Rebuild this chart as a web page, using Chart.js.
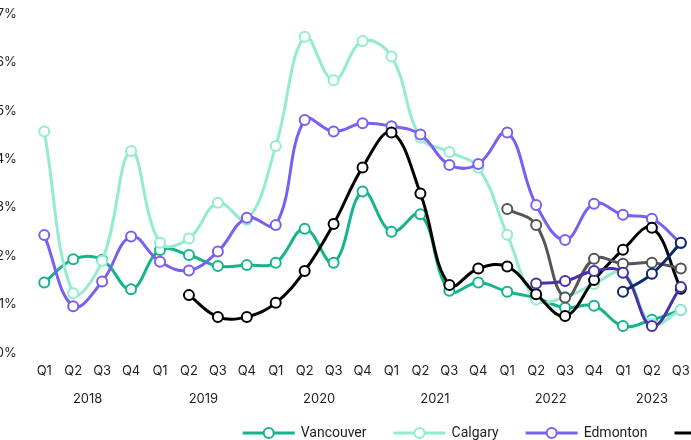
<!DOCTYPE html>
<html>
<head>
<meta charset="utf-8">
<script src="https://cdn.jsdelivr.net/npm/chart.js@4.4.1/dist/chart.umd.min.js"></script>
<style>
html,body{margin:0;padding:0;background:#fff;overflow:hidden;width:691px;height:440px;}
#wrap{position:absolute;left:-6px;top:0;width:712px;height:440px;}
canvas{display:block;}
</style>
</head>
<body>
<div id="wrap"><canvas id="c" width="712" height="440"></canvas></div>
<script>
// ---- data ----
const quarters = ['Q1','Q2','Q3','Q4','Q1','Q2','Q3','Q4','Q1','Q2','Q3','Q4','Q1','Q2','Q3','Q4','Q1','Q2','Q3','Q4','Q1','Q2','Q3'];
const quarterYears = ['2018','2018','2018','2018','2019','2019','2019','2019','2020','2020','2020','2020','2021','2021','2021','2021','2022','2022','2022','2022','2023','2023','2023'];
const yTicks = [0,1,2,3,4,5,6,7];

const seriesNames = ['Vancouver','Calgary','Edmonton','Toronto','Ottawa','Montréal','Halifax'];
const vancouver = [1.45,1.93,1.92,1.31,2.12,2.02,1.79,1.81,1.86,2.56,1.86,3.33,2.50,2.86,1.28,1.45,1.26,1.13,0.93,0.97,0.55,0.68,0.88];
const calgary   = [4.57,1.23,1.90,4.17,2.27,2.36,3.10,2.75,4.27,6.53,5.63,6.44,6.12,4.45,4.15,3.82,2.44,1.10,1.15,1.42,1.65,0.60,0.88];
const edmonton  = [2.43,0.96,1.47,2.40,1.88,1.70,2.09,2.79,2.64,4.81,4.57,4.74,4.68,4.51,3.88,3.90,4.55,3.05,2.33,3.08,2.85,2.77,2.26];
const toronto   = [null,null,null,null,null,1.19,0.74,0.74,1.03,1.69,2.66,3.83,4.55,3.29,1.40,1.74,1.78,1.21,0.76,1.50,2.13,2.58,1.32];
const ottawa    = [null,null,null,null,null,null,null,null,null,null,null,null,null,null,null,null,2.97,2.64,1.14,1.94,1.84,1.86,1.74];
const montreal  = [null,null,null,null,null,null,null,null,null,null,null,null,null,null,null,null,null,1.43,1.48,1.69,1.65,0.55,1.36];
const halifax   = [null,null,null,null,null,null,null,null,null,null,null,null,null,null,null,null,null,null,null,null,1.26,1.63,2.27];

const seriesValues = [vancouver, calgary, edmonton, toronto, ottawa, montreal, halifax];
const seriesColors = ['#14b48e','#93eccf','#7b5ff0','#000000','#555555','#4b31a6','#0c2a6a'];

const tickFont = {family:'Inter', size:13};
const tickColor = '#1e1e1e';

// ---- plugins ----
const yearPlugin = {
  id:'yearLabels',
  afterDraw(chart){
    const xs = chart.scales.x, ctx = chart.ctx;
    const groups = {};
    quarterYears.forEach((y,i)=>{ (groups[y] = groups[y] || []).push(i); });
    ctx.save();
    ctx.font = tickFont.size + 'px ' + tickFont.family;
    ctx.fillStyle = tickColor;
    ctx.textAlign = 'center';
    ctx.textBaseline = 'middle';
    Object.keys(groups).forEach(y=>{
      const idx = groups[y];
      const x = (xs.getPixelForValue(idx[0]) + xs.getPixelForValue(idx[idx.length-1]))/2;
      ctx.fillText(y, x, xs.bottom - 41);
    });
    ctx.restore();
  }
};

const legendPlugin = {
  id:'lineLegend',
  afterDraw(chart){
    const ctx = chart.ctx;
    let x = 248.7;
    const y = 433;
    ctx.save();
    ctx.font = '14px Roboto';
    ctx.textBaseline = 'middle';
    ctx.textAlign = 'left';
    chart.data.datasets.forEach(ds=>{
      ctx.strokeStyle = ds.borderColor;
      ctx.lineWidth = 3;
      ctx.beginPath(); ctx.moveTo(x, y); ctx.lineTo(x+52, y); ctx.stroke();
      ctx.beginPath(); ctx.arc(x+26, y, 5, 0, Math.PI*2);
      ctx.fillStyle = '#fff'; ctx.fill();
      ctx.lineWidth = 2; ctx.stroke();
      ctx.fillStyle = '#1e1e1e';
      ctx.fillText(ds.label, x+58, y);
      x += 58 + ctx.measureText(ds.label).width + 27;
    });
    ctx.restore();
  }
};

const datasets = seriesNames.map((name,i)=>({
  label: name,
  data: seriesValues[i],
  borderColor: seriesColors[i],
  backgroundColor: '#ffffff',
  pointBackgroundColor: '#ffffff',
  pointBorderColor: seriesColors[i],
  pointRadius: 5,
  pointBorderWidth: 2,
  borderWidth: 3,
  tension: 0.4,
  fill: false,
  order: seriesNames.length - i
}));

new Chart(document.getElementById('c'), {
  type:'line',
  data:{ labels: quarters, datasets },
  options:{
    responsive:false,
    animation:false,
    devicePixelRatio:1,
    layout:{ padding:{ top:14, right:10.7, left:0, bottom:0 } },
    plugins:{ legend:{display:false}, tooltip:{enabled:false} },
    scales:{
      x:{
        type:'category',
        offset:true,
        grid:{display:false, drawTicks:false},
        border:{display:false},
        ticks:{font:tickFont, color:tickColor, padding:11, maxRotation:0, autoSkip:false},
        afterFit(s){ s.height = 87.3; s.paddingLeft = 0; s.paddingRight = 0; }
      },
      y:{
        min:0, max:7,
        afterBuildTicks(s){ s.ticks = yTicks.map(v=>({value:v})); },
        grid:{display:false, drawTicks:false},
        border:{display:false},
        ticks:{font:tickFont, color:tickColor, padding:13, callback:v=>v+'%'},
        afterFit(s){ s.width = 35.8; s.paddingTop = 0; s.paddingBottom = 0; }
      }
    }
  },
  plugins:[yearPlugin, legendPlugin]
});
</script>
</body>
</html>
